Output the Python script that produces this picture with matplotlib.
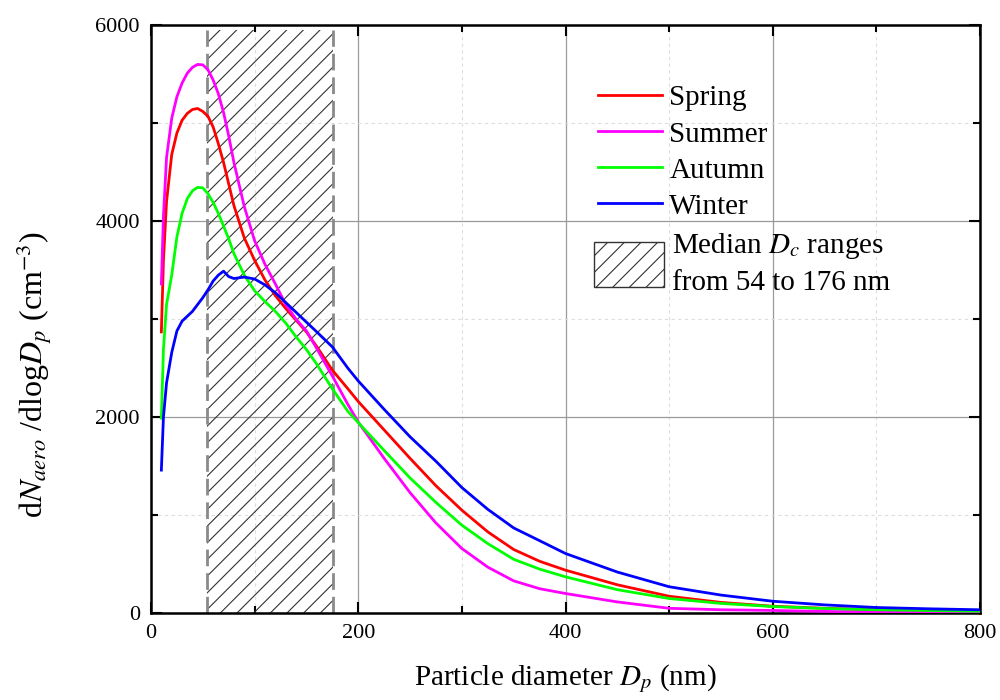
import matplotlib
matplotlib.use("Agg")
import matplotlib.pyplot as plt
from matplotlib.patches import Patch
from matplotlib.ticker import MultipleLocator

plt.rcParams["font.family"] = ["Liberation Serif", "DejaVu Serif"]
plt.rcParams["mathtext.fontset"] = "stix"
plt.rcParams["hatch.linewidth"] = 0.8

# particle diameter (nm)
diameter = [10, 12, 15, 20, 25, 30, 35, 40, 45, 50, 55, 60, 65, 70, 75, 80, 90,
            100, 110, 120, 130, 140, 150, 160, 175, 190, 200, 225, 250, 275,
            300, 325, 350, 375, 400, 450, 500, 550, 600, 650, 700, 750, 800]

spring = [2870, 3600, 4200, 4680, 4900, 5030, 5100, 5140, 5150, 5120, 5070,
          4960, 4790, 4600, 4380, 4160, 3830, 3600, 3400, 3240, 3110, 2990,
          2870, 2720, 2480, 2290, 2160, 1870, 1580, 1300, 1051, 830, 650,
          530, 439, 290, 173, 110, 71, 50, 35, 27, 20]

summer = [3360, 4050, 4650, 5050, 5270, 5410, 5510, 5570, 5600, 5595, 5545,
          5440, 5300, 5110, 4870, 4600, 4150, 3800, 3560, 3360, 3150, 3000,
          2880, 2700, 2420, 2130, 1950, 1580, 1230, 920, 660, 470, 330,
          250, 201, 115, 50, 35, 28, 18, 12, 9, 7]

autumn = [1990, 2690, 3150, 3450, 3840, 4080, 4230, 4310, 4345, 4340, 4280,
          4190, 4080, 3950, 3820, 3670, 3450, 3290, 3180, 3080, 2960, 2820,
          2690, 2540, 2290, 2060, 1945, 1660, 1380, 1130, 898, 710, 550,
          450, 371, 240, 150, 100, 68, 48, 35, 27, 20]

winter = [1460, 2000, 2350, 2660, 2880, 2980, 3030, 3080, 3150, 3220, 3300,
          3390, 3450, 3490, 3435, 3415, 3430, 3410, 3350, 3270, 3170, 3070,
          2970, 2870, 2717, 2500, 2370, 2080, 1800, 1550, 1282, 1060, 870,
          740, 609, 420, 270, 185, 122, 85, 58, 45, 35]

dc_low, dc_high = 54, 176

fig, ax = plt.subplots(figsize=(10, 7), dpi=100)
fig.subplots_adjust(left=0.151, right=0.98, bottom=0.124, top=0.964)

ax.axvspan(dc_low, dc_high, ymin=0, ymax=5950 / 6000, facecolor="none",
           edgecolor="#333333", linewidth=0, hatch="//", zorder=1)
ax.vlines([dc_low, dc_high], 0, 5950, colors="#8a8a8a", linestyles=(0, (6, 2.5)),
          linewidth=2, zorder=2)

ax.plot(diameter, spring, color="#ff0000", lw=2, label="Spring", zorder=3)
ax.plot(diameter, summer, color="#ff00ff", lw=2, label="Summer", zorder=3)
ax.plot(diameter, autumn, color="#00ff00", lw=2, label="Autumn", zorder=3)
ax.plot(diameter, winter, color="#0000ff", lw=2, label="Winter", zorder=3)

ax.set_xlim(0, 800)
ax.set_ylim(0, 6000)
ax.xaxis.set_major_locator(MultipleLocator(200))
ax.xaxis.set_minor_locator(MultipleLocator(100))
ax.yaxis.set_major_locator(MultipleLocator(2000))
ax.yaxis.set_minor_locator(MultipleLocator(1000))
ax.tick_params(which="both", direction="in", top=True, right=True, labelsize=16,
               width=1.5, pad=8)
ax.tick_params(which="major", length=8)
ax.tick_params(which="minor", length=5)
for s in ax.spines.values():
    s.set_linewidth(1.8)

ax.grid(which="major", color="#9a9a9a", linewidth=0.9, zorder=0)
ax.grid(which="minor", color="#dddddd", linestyle=(0, (3, 3)), linewidth=0.8, zorder=0)
ax.set_axisbelow(True)

ax.set_xlabel("Particle diameter $D_p$ (nm)", fontsize=21, labelpad=14)
ax.set_ylabel(r"d$N_{aero}$ /dlog$D_p$ (cm$^{-3}$)", fontsize=23)
ax.yaxis.set_label_coords(-0.117, 0.405)

leg1 = ax.legend(loc="upper left", bbox_to_anchor=(0.525, 0.918), frameon=False,
                 fontsize=21, handlelength=2.2, handletextpad=0.25,
                 labelspacing=0.33, borderaxespad=0)
ax.add_artist(leg1)
hatch_handle = Patch(facecolor="white", edgecolor="#333333", linewidth=1,
                     hatch="//")
leg2 = ax.legend([hatch_handle], ["Median $D_c$ ranges\nfrom 54 to 176 nm"],
                 loc="upper left", bbox_to_anchor=(0.52, 0.67), frameon=False,
                 fontsize=21, handlelength=2.4, handleheight=2.0,
                 handletextpad=0.3, borderaxespad=0)
leg2.get_texts()[0].set_linespacing(1.45)

fig.savefig("out.png", dpi=100)
